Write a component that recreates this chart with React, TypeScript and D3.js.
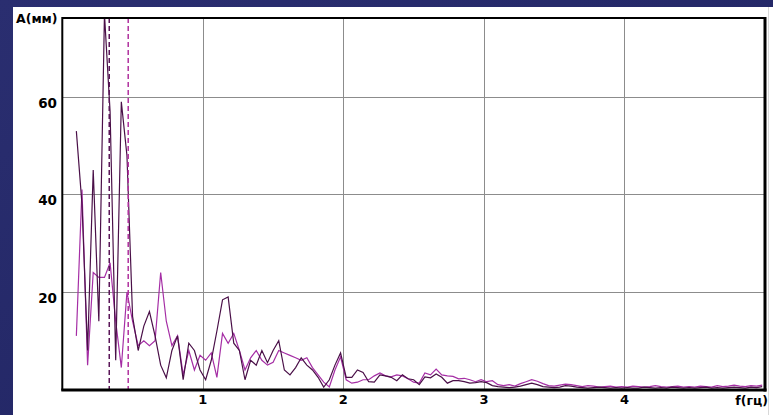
import React from "react";
import * as d3 from "d3";

// Frequency bins (Hz): first bin and bin width
const F0 = 0.1;
const DF = 0.04;

// Spectrum amplitude (mm), dark series
const darkSeries = [
  53, 38, 8, 45, 14, 77, 57, 6, 59, 48,
  15, 8, 13, 16, 11, 5, 2.4, 8, 11, 2,
  9.5, 8, 4, 2, 6, 12, 18.4, 19, 9.5, 8,
  2, 6, 5, 8, 5.5, 8, 10, 4, 3, 4.5,
  6.5, 5, 4, 2.5, 0.5, 2, 5, 7.5, 2.5, 2.5,
  4, 3.5, 1.6, 1.5, 3, 2.8, 2.5, 1.8, 3, 2.2,
  2, 1, 2.6, 2.4, 3.2, 2.5, 1.3, 1.8, 1.8, 1.6,
  1.3, 1.4, 1.6, 1.4, 0.8, 0.6, 0.5, 0.4, 0.5, 0.7,
  1.0, 1.3, 1.0, 0.6, 0.5, 0.4, 0.5, 0.8, 0.7, 0.5,
  0.4, 0.3, 0.4, 0.5, 0.4, 0.3, 0.4, 0.3, 0.4, 0.3,
  0.3, 0.5, 0.4, 0.3, 0.4, 0.3, 0.5, 0.4, 0.3, 0.4,
  0.3, 0.4, 0.5, 0.3, 0.4, 0.3, 0.4, 0.5, 0.4, 0.3,
  0.5, 0.4, 0.6,
];

// Spectrum amplitude (mm), magenta series
const magentaSeries = [
  11, 41, 5, 24, 23, 23, 26, 14, 4.5, 20,
  14, 9, 10, 9, 10, 24, 14, 9, 11, 3,
  8, 4, 7, 6, 7.5, 2.5, 11.5, 9.5, 11.5, 8,
  4, 6.5, 8, 6, 5, 5.6, 8, 7.5, 7, 6.5,
  6, 6.5, 4.5, 3, 1.5, 0.5, 4, 6.7, 2, 1.3,
  1.5, 2, 2, 2.8, 3.4, 2.8, 2.6, 3, 2.8, 2.2,
  1.5, 1.3, 3.4, 3, 4.2, 3, 2.8, 2.7, 2.2, 2.3,
  2, 1.6, 2, 1.6, 1.8, 1.0, 0.8, 1.0, 0.7, 1.2,
  1.6, 2.0, 1.7, 1.2, 0.8, 0.7, 0.9, 1.1, 1.0, 0.8,
  0.6, 0.8, 0.7, 0.5, 0.6, 0.7, 0.5, 0.6, 0.5, 0.7,
  0.6, 0.5, 0.6, 0.8, 0.6, 0.5, 0.6, 0.7, 0.5, 0.6,
  0.5, 0.7, 0.6, 0.5, 0.8, 0.6, 0.7, 0.9, 0.7, 0.6,
  0.8, 0.7, 0.9,
];

// Marker frequencies (dashed lines), Hz
const markerFreqs = [0.334, 0.469];

// Axis ticks
const xTicks = [1, 2, 3, 4];
const yTicks = [20, 40, 60];
const X_DOMAIN = [0, 5];
const Y_DOMAIN = [0, 76.2];

const W = 773;
const H = 415;
const PL = 62.3;
const PR = 765;
const PT = 18;
const PB = 389.5;

const DARK = "#4a1048";
const MAGENTA = "#a52ea5";

export default function App() {
  const x = d3.scaleLinear().domain(X_DOMAIN).range([PL, PR]);
  const y = d3.scaleLinear().domain(Y_DOMAIN).range([PB, PT]);

  const line = d3
    .line<number>()
    .x((_, i) => x(F0 + i * DF))
    .y((d) => y(d));

  const font = "'DejaVu Sans', Verdana, sans-serif";

  return (
    <div style={{ position: "fixed", left: 0, top: 0, width: W, height: H }}>
      <svg width={W} height={H} style={{ display: "block" }}>
        <defs>
          <linearGradient id="bg" x1="0" y1="0" x2="1" y2="1">
            <stop offset="0" stopColor="#2a2e70" />
            <stop offset="1" stopColor="#1f2360" />
          </linearGradient>
          <clipPath id="plotclip">
            <rect x={PL} y={PT} width={PR - PL} height={PB - PT} />
          </clipPath>
        </defs>
        <rect x={0} y={0} width={W} height={H} fill="url(#bg)" />
        <rect x={13} y={7} width={W - 13} height={H - 7} fill="#ffffff" />
        <line x1={768.5} x2={768.5} y1={7} y2={H} stroke="#d8d8d8" strokeWidth={1} />

        {/* grid */}
        {xTicks.map((t) => (
          <line
            key={"gx" + t}
            x1={Math.round(x(t)) + 0.5}
            x2={Math.round(x(t)) + 0.5}
            y1={PT}
            y2={PB}
            stroke="#8c8c8c"
            strokeWidth={1}
          />
        ))}
        {yTicks.map((t) => (
          <line
            key={"gy" + t}
            x1={PL}
            x2={PR}
            y1={Math.round(y(t)) + 0.5}
            y2={Math.round(y(t)) + 0.5}
            stroke="#8c8c8c"
            strokeWidth={1}
          />
        ))}

        {/* series */}
        <g clipPath="url(#plotclip)">
          <path d={line(magentaSeries) || ""} fill="none" stroke={MAGENTA} strokeWidth={1.2} />
          <path d={line(darkSeries) || ""} fill="none" stroke={DARK} strokeWidth={1.2} />
          {markerFreqs.map((f, i) => (
            <line
              key={"m" + i}
              x1={x(f)}
              x2={x(f)}
              y1={PT}
              y2={PB}
              stroke={i === 0 ? "#5a1658" : "#b0309e"}
              strokeWidth={1.5}
              strokeDasharray="5,3"
            />
          ))}
        </g>

        {/* frame */}
        <line x1={PL} x2={PL} y1={PT - 1} y2={PB + 1} stroke="#000" strokeWidth={2} />
        <line x1={PL} x2={PR + 1} y1={PT} y2={PT} stroke="#000" strokeWidth={2} />
        <line x1={PR} x2={PR} y1={PT - 1} y2={PB + 2} stroke="#000" strokeWidth={3} />
        <line x1={PL - 1} x2={PR + 1.5} y1={PB + 0.5} y2={PB + 0.5} stroke="#000" strokeWidth={3} />

        {/* labels */}
        {yTicks.map((t) => (
          <text
            key={"ly" + t}
            x={57}
            y={y(t) + 11}
            textAnchor="end"
            fontFamily={font}
            fontWeight="bold"
            fontSize={13.5}
            fill="#000"
          >
            {t}
          </text>
        ))}
        {xTicks.map((t) => (
          <text
            key={"lx" + t}
            x={x(t)}
            y={404}
            textAnchor="middle"
            fontFamily={font}
            fontWeight="bold"
            fontSize={13}
            fill="#000"
          >
            {t}
          </text>
        ))}
        <text x={16} y={22.5} fontFamily={font} fontWeight="bold" fontSize={12.5} fill="#000">
          A(мм)
        </text>
        <text x={768} y={405} textAnchor="end" fontFamily={font} fontWeight="bold" fontSize={12.5} fill="#000">
          f(гц)
        </text>
      </svg>
    </div>
  );
}
